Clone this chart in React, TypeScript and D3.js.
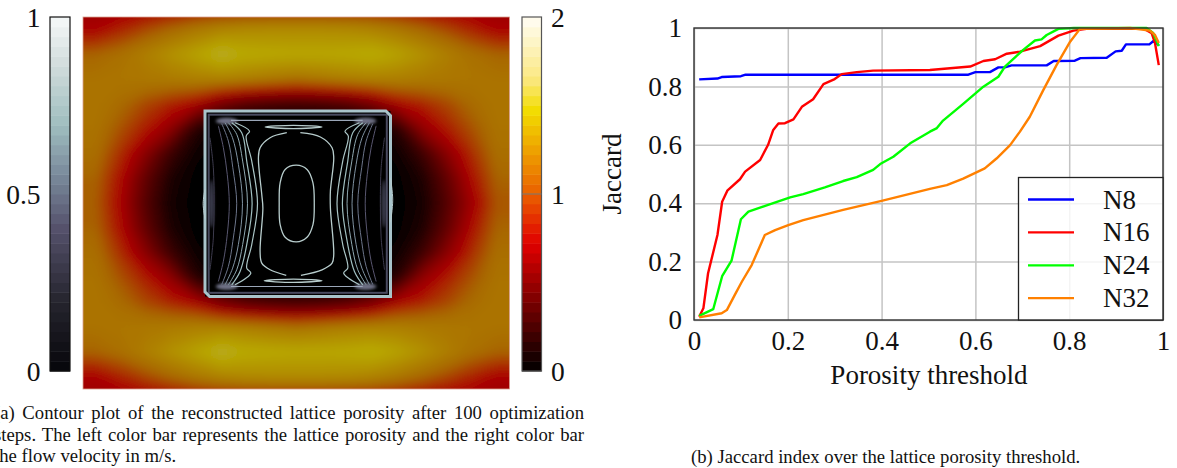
import React, { useEffect, useRef } from "react";
import * as d3 from "d3";

// Jaccard curves, [porosity threshold, jaccard]
const n8 = [[0.011,0.824],[0.05,0.827],[0.059,0.832],[0.1,0.835],[0.11,0.84],[0.585,0.84],[0.6,0.849],[0.631,0.849],[0.649,0.865],[0.663,0.865],[0.677,0.872],[0.752,0.872],[0.767,0.887],[0.812,0.888],[0.824,0.897],[0.88,0.898],[0.899,0.92],[0.912,0.922],[0.921,0.944],[0.971,0.944],[0.981,0.957],[0.991,0.94]];
const n16 = [[0.011,0.011],[0.02,0.04],[0.03,0.16],[0.05,0.291],[0.06,0.405],[0.071,0.443],[0.098,0.482],[0.109,0.508],[0.141,0.548],[0.158,0.6],[0.169,0.651],[0.18,0.673],[0.194,0.674],[0.212,0.687],[0.23,0.73],[0.254,0.756],[0.276,0.808],[0.3,0.825],[0.315,0.842],[0.347,0.849],[0.382,0.854],[0.503,0.856],[0.589,0.868],[0.617,0.887],[0.642,0.893],[0.667,0.912],[0.695,0.919],[0.738,0.938],[0.777,0.974],[0.809,0.991],[0.837,0.997],[0.96,0.997],[0.976,0.982],[0.983,0.948],[0.991,0.873]];
const n24 = [[0.011,0.014],[0.041,0.037],[0.06,0.15],[0.08,0.203],[0.1,0.345],[0.116,0.371],[0.158,0.394],[0.205,0.42],[0.233,0.431],[0.279,0.454],[0.318,0.476],[0.347,0.489],[0.382,0.514],[0.397,0.534],[0.425,0.559],[0.461,0.605],[0.503,0.645],[0.517,0.656],[0.531,0.683],[0.574,0.74],[0.617,0.799],[0.649,0.833],[0.663,0.868],[0.702,0.925],[0.727,0.957],[0.741,0.961],[0.752,0.976],[0.777,0.997],[0.81,1],[0.965,1],[0.979,0.983],[0.991,0.938]];
const n32 = [[0.011,0.009],[0.059,0.023],[0.07,0.034],[0.087,0.086],[0.102,0.131],[0.123,0.188],[0.151,0.291],[0.173,0.308],[0.201,0.325],[0.233,0.342],[0.318,0.377],[0.4,0.408],[0.503,0.449],[0.539,0.462],[0.574,0.484],[0.62,0.519],[0.645,0.553],[0.674,0.599],[0.695,0.645],[0.716,0.696],[0.745,0.788],[0.773,0.873],[0.802,0.953],[0.823,0.997],[0.93,1],[0.972,0.991],[0.983,0.976],[0.991,0.949]];
const seriesNames = ["N8", "N16", "N24", "N32"];
const seriesColors = ["#0000ff", "#ff0000", "#00ff00", "#ff8000"];
const jaccardTicks = [0, 0.2, 0.4, 0.6, 0.8, 1];

// flow velocity on a coarse grid (17 x 15), outside row is what the top and bottom edge fade to
const velocityOutside = [0.64,0.64,0.65,0.66,0.67,0.68,0.69,0.7,0.7,0.7,0.69,0.68,0.67,0.66,0.65,0.64,0.64];
const velocityRow0 = [0.72,0.82,0.92,1.02,1.12,1.2,1.24,1.25,1.25,1.25,1.24,1.2,1.12,1.02,0.92,0.82,0.72];
const velocityRow1 = [1.0,1.06,1.17,1.3,1.42,1.57,1.48,1.46,1.45,1.45,1.46,1.5,1.42,1.3,1.17,1.06,1.0];
const velocityRow2 = [1.08,1.1,1.12,1.14,1.17,1.18,1.16,1.12,1.08,1.12,1.16,1.18,1.17,1.14,1.12,1.1,1.08];
const velocityRow3 = [1.1,1.03,0.92,0.82,0.72,0.5,0.36,0.3,0.28,0.3,0.36,0.5,0.72,0.82,0.92,1.03,1.1];
const velocityRow4 = [1.08,0.95,0.8,0.6,0.18,0,0,0,0,0,0,0,0.18,0.6,0.8,0.95,1.08];
const velocityRow5 = [1.05,0.85,0.58,0.26,0.06,0,0,0,0,0,0,0,0.06,0.26,0.58,0.85,1.05];
const velocityRow6 = [1.0,0.76,0.42,0.13,0.02,0,0,0,0,0,0,0,0.02,0.13,0.42,0.76,1.0];
const velocityRow7 = [0.98,0.72,0.36,0.09,0.01,0,0,0,0,0,0,0,0.01,0.09,0.36,0.68,0.96];
const velocityRows = [velocityRow0, velocityRow1, velocityRow2, velocityRow3, velocityRow4, velocityRow5, velocityRow6, velocityRow7, velocityRow6, velocityRow5, velocityRow4, velocityRow3, velocityRow2, velocityRow1, velocityRow0];

// porosity contours inside the lattice, in percent of the box
const innerOval = [[49.2,29.2],[55,31.5],[58.2,38.7],[58.9,49.9],[58.2,61.3],[55,68.1],[49.2,70.6],[43.2,68.1],[40.5,61.3],[40,49.9],[40.5,38.7],[43.2,31.5]];
const midLoopLeft = [[44.1,11.7],[35.1,14.4],[29.7,19.8],[28.8,25.2],[30.6,45],[31.2,52.3],[29.7,75.7],[30.6,82],[35.1,85.6],[43.8,88.6]];
const midLoopRight = [[51.4,11.7],[62.2,14],[68.5,19.8],[69.4,25.2],[67.6,43.2],[67.6,52.3],[69.4,77.5],[68.5,82],[63.1,85.6],[51.7,88.6]];
const slimTop = [[32.4,8.6],[47.7,7.7],[63.1,8.6],[47.7,9.5]];
const slimBottom = [[31.9,91.5],[47.7,90.6],[63.1,91.5],[47.7,92.4]];
const sideCurves = [
  [[16.2,6.3],[24,10.8],[22.2,13.5],[25.2,27],[28.3,50],[25.2,72],[22.5,84.7],[24.7,87.4],[16.2,93.7]],
  [[14.4,6.3],[19.8,11.7],[22.5,27],[25.4,50],[22.5,72],[18.9,86.5],[14.4,93.7]],
  [[12.6,6.3],[17.1,12.6],[20.3,27],[22.9,50],[20.3,72],[17.1,85.6],[12.6,93.7]],
  [[10.8,6.3],[14.8,14.4],[18,28.8],[20.2,50],[18,72],[14.9,84.7],[10.8,93.7]],
  [[9,6.8],[12.6,16.2],[15,30.6],[17.1,50],[15,70.3],[12.6,83.8],[9,93.6]],
  [[7.2,8],[9.9,19.8],[12,34.2],[13.1,50],[12,66.6],[9.9,81],[7.2,91.9]],
  [[2.7,14.4],[4.5,30.6],[4.9,50],[4.5,68.5],[2.7,85.6]],
];
const sideLevels = [0.74, 0.7, 0.64, 0.58, 0.5, 0.42, 0.3];
const cornerBlobs = [[11.7,5.4],[86.5,5.4],[11.7,94.6],[86.5,94.6]];
const porosityTicks = ["0", "0.5", "1"];
const velocityTicks = ["0", "1", "2"];

const captionA = [
  "(a) Contour plot of the reconstructed lattice porosity after 100 optimization",
  "steps. The left color bar represents the lattice porosity and the right color bar",
  "the flow velocity in m/s.",
];
const captionB = "(b) Jaccard index over the lattice porosity threshold.";

const font = "'Liberation Serif', serif";

const porosityColor = d3
  .scaleLinear<string>()
  .domain([0, 0.2, 0.4, 0.55, 0.7, 0.85, 1])
  .range(["#06060a", "#26252f", "#54506a", "#78889a", "#a0bfc0", "#cdd9d9", "#f6f9f9"]);
const velocityColor = d3
  .scaleLinear<string>()
  .domain([0, 0.72, 1.0, 1.47, 1.65, 2])
  .range(["#000000", "#e00000", "#ea6000", "#f2dc00", "#fbe880", "#fffdf5"]);
// the surface is lit, so it is darker than its colour bar
const fieldColor = d3
  .scaleLinear<string>()
  .domain([0, 0.72, 1.0, 1.45, 1.6])
  .range(["#000000", "#ac0000", "#a86800", "#b8a800", "#b9a840"]);

// the grid gets an extra ring of cells so d3.contours' cut corners stay outside the plot
const PAD = 2;
const padRow = (r) => [...Array(PAD).fill(r[0]), ...r, ...Array(PAD).fill(r[r.length - 1])];
const paddedRows = [
  ...Array(PAD).fill(padRow(velocityOutside)),
  ...velocityRows.map(padRow),
  ...Array(PAD).fill(padRow(velocityOutside)),
];
const fieldX = d3.scaleLinear().domain([PAD, 17 + PAD]).range([83, 509.5]);
const fieldY = d3.scaleLinear().domain([PAD, 15 + PAD]).range([17, 389]);
const boxX = d3.scaleLinear().domain([0, 100]).range([205, 390.5]);
const boxXMirror = d3.scaleLinear().domain([0, 100]).range([389.5, 204]);
const boxY = d3.scaleLinear().domain([0, 100]).range([111, 296.5]);
const barY = d3.scaleLinear().domain([0, 1]).range([371, 17]);
const jx = d3.scaleLinear().domain([0, 1]).range([694, 1163]);
const jy = d3.scaleLinear().domain([0, 1]).range([320, 28]);

const contourGen = d3.contours().size([17 + 2 * PAD, 15 + 2 * PAD]).smooth(true).thresholds(d3.range(0.02, 1.7, 0.02));
const fieldBands = contourGen(paddedRows.flat());
const fieldPath = d3.geoPath(
  d3.geoTransform({
    point(x, y) {
      this.stream.point(fieldX(x), fieldY(y));
    },
  })
);

const open = (sx) => d3.line().x((d) => sx(d[0])).y((d) => boxY(d[1])).curve(d3.curveCatmullRom);
const closed = d3.line().x((d) => boxX(d[0])).y((d) => boxY(d[1])).curve(d3.curveCatmullRomClosed);
const jaccardLine = d3.line().x((d) => jx(d[0])).y((d) => jy(d[1]));

const barBands = d3.range(0, 1, 1 / 36);

export default function App() {
  const axesRef = useRef(null);
  const captionRef = useRef(null);

  useEffect(() => {
    const g = d3.select(axesRef.current);
    g.selectAll("*").remove();
    const fmt = (d) => d3.format("~g")(d);
    const xAxis = g
      .append("g")
      .attr("transform", `translate(0,320)`)
      .call(d3.axisBottom(jx).tickValues(jaccardTicks).tickFormat(fmt).tickSize(-292).tickPadding(11));
    const yAxis = g
      .append("g")
      .attr("transform", `translate(694,0)`)
      .call(d3.axisLeft(jy).tickValues(jaccardTicks).tickFormat(fmt).tickSize(-469).tickPadding(12));
    [xAxis, yAxis].forEach((a) => {
      a.select(".domain").remove();
      a.attr("font-family", font).attr("font-size", 27);
      a.selectAll("line").attr("stroke", "#c4c4c4").attr("stroke-width", 1.5);
      a.selectAll("text").attr("fill", "#111");
    });

    // justify the first two caption lines
    d3.select(captionRef.current)
      .selectAll("text.just")
      .each(function () {
        const el = this as SVGTextElement;
        const spaces = (el.textContent.match(/ /g) || []).length;
        const extra = (590 - el.getComputedTextLength()) / spaces;
        el.setAttribute("word-spacing", String(extra));
      });
  }, []);

  return (
    <svg width={1177} height={468} style={{ position: "fixed", left: 0, top: 0, background: "#fff" }} fontFamily={font}>
      <defs>
        <clipPath id="plotClip">
          <rect x={83} y={17} width={426.5} height={372} />
        </clipPath>
        <filter id="soft" x="-5%" y="-5%" width="110%" height="110%">
          <feGaussianBlur stdDeviation={5} />
        </filter>
        <filter id="softer" x="-50%" y="-50%" width="200%" height="200%">
          <feGaussianBlur stdDeviation={1.6} />
        </filter>
        <filter id="line" x="-10%" y="-10%" width="120%" height="120%">
          <feGaussianBlur stdDeviation={0.3} />
        </filter>
      </defs>

      {/* velocity surface */}
      <g clipPath="url(#plotClip)">
        <g filter="url(#soft)">
          <rect x={0} y={-40} width={600} height={480} fill="#000" />
          {fieldBands.map((c) => (
            <path key={c.value} d={fieldPath(c)} fill={fieldColor(c.value)} />
          ))}
        </g>
      </g>
      <rect x={83} y={17} width={426.5} height={372} fill="none" stroke="#d9a090" strokeWidth={0.8} />

      {/* lattice box */}
      <g>
        <rect x={boxX(0)} y={boxY(0)} width={boxX(100) - boxX(0)} height={boxY(100) - boxY(0)} fill="#000" />
        {cornerBlobs.map((d, i) => (
          <ellipse key={i} cx={boxX(d[0])} cy={boxY(d[1])} rx={11} ry={3.2} fill="#8d90aa" opacity={0.8} filter="url(#softer)" />
        ))}
        <ellipse cx={boxX(3.5)} cy={boxY(50)} rx={2.5} ry={24} fill="#55566e" opacity={0.7} filter="url(#softer)" />
        <ellipse cx={boxX(96.5)} cy={boxY(50)} rx={2.5} ry={24} fill="#55566e" opacity={0.7} filter="url(#softer)" />
        <g fill="none" filter="url(#line)">
          {sideCurves.map((c, i) => (
            <g key={i} stroke={porosityColor(sideLevels[i])} strokeWidth={i < 2 ? 1.2 : 1}>
              <path d={open(boxX)(c)} />
              <path d={open(boxXMirror)(c)} />
            </g>
          ))}
          <g stroke={porosityColor(0.78)} strokeWidth={1.3}>
            <path d={closed(innerOval)} />
            <path d={open(boxX)(midLoopLeft)} />
            <path d={open(boxX)(midLoopRight)} />
            <path d={closed(slimTop)} />
            <path d={closed(slimBottom)} />
          </g>
        </g>
        {/* inner bands along top and bottom */}
        <rect x={boxX(2)} y={boxY(2)} width={boxX(98) - boxX(2)} height={boxY(98) - boxY(2)} fill="none" stroke="#4a4b60" strokeWidth={2} filter="url(#line)" />
        <line x1={boxX(14)} x2={boxX(85)} y1={boxY(5)} y2={boxY(5)} stroke="#9aa6b8" strokeWidth={1.2} />
        <line x1={boxX(14)} x2={boxX(85)} y1={boxY(94.6)} y2={boxY(94.6)} stroke="#9aa6b8" strokeWidth={1.2} />
        <polygon
          points={`${boxX(0)},${boxY(0)} ${boxX(97.5)},${boxY(0)} ${boxX(100)},${boxY(2.5)} ${boxX(100)},${boxY(100)} ${boxX(2.5)},${boxY(100)} ${boxX(0)},${boxY(97.5)}`}
          fill="none"
          stroke="#a9c4cb"
          strokeWidth={3}
          filter="url(#line)"
        />
        <path
          d={d3.line().x((d) => boxX(d[0])).y((d) => boxY(d[1])).curve(d3.curveCatmullRom)([[0,42],[-1,50],[0,58]])}
          fill="none"
          stroke="#b8cdd0"
          strokeWidth={1}
        />
        <path
          d={d3.line().x((d) => boxX(d[0])).y((d) => boxY(d[1])).curve(d3.curveCatmullRom)([[100,36],[101.2,48],[100,60]])}
          fill="none"
          stroke="#b8cdd0"
          strokeWidth={1}
        />
      </g>

      {/* porosity colour bar */}
      <g>
        {barBands.map((v) => (
          <rect key={v} x={50} y={barY(v + 1 / 36)} width={20} height={barY(v) - barY(v + 1 / 36) + 0.5} fill={porosityColor(v + 1 / 72)} />
        ))}
        <rect x={50} y={17} width={20} height={354} fill="none" stroke="#111" strokeWidth={1.2} />
        {porosityTicks.map((t) => (
          <text key={t} x={40.5} y={barY(+t) + 10} textAnchor="end" fontSize={27.5} fill="#111">
            {t}
          </text>
        ))}
      </g>

      {/* velocity colour bar */}
      <g>
        {barBands.map((v) => (
          <rect key={v} x={522} y={barY(v + 1 / 36)} width={19.5} height={barY(v) - barY(v + 1 / 36) + 0.5} fill={velocityColor((v + 1 / 72) * 2)} />
        ))}
        <rect x={522} y={17} width={19.5} height={354} fill="none" stroke="#555" strokeWidth={1.2} />
        <line x1={522} x2={541.5} y1={barY(0.5)} y2={barY(0.5)} stroke="#777" strokeWidth={1} />
        {velocityTicks.map((t) => (
          <text key={t} x={551} y={barY(+t / 2) + 10} fontSize={27.5} fill="#111">
            {t}
          </text>
        ))}
      </g>

      {/* Jaccard plot */}
      <g ref={axesRef} />
      {[n8, n16, n24, n32].map((s, i) => (
        <path key={seriesNames[i]} d={jaccardLine(s)} fill="none" stroke={seriesColors[i]} strokeWidth={2.4} strokeLinejoin="round" />
      ))}
      <rect x={694} y={28} width={469} height={292} fill="none" stroke="#333" strokeWidth={1.4} />
      <rect x={1018.5} y={177.5} width={144.5} height={142.5} fill="#fff" fillOpacity={0.82} stroke="#222" strokeWidth={1.3} />
      {seriesNames.map((name, i) => {
        const y = 199.5 + i * 32.9;
        return (
          <g key={name}>
            <line x1={1028} x2={1074} y1={y} y2={y} stroke={seriesColors[i]} strokeWidth={2.3} />
            <text x={1103} y={y + 9} fontSize={27} fill="#111">
              {name}
            </text>
          </g>
        );
      })}
      <text x={929} y={384} textAnchor="middle" fontSize={27} fill="#111">
        Porosity threshold
      </text>
      <text transform="translate(621,174) rotate(-90)" textAnchor="middle" fontSize={27} fill="#111">
        Jaccard
      </text>

      {/* captions */}
      <g ref={captionRef} fontSize={18.7} fill="#111">
        {captionA.map((line, i) => (
          <text key={i} className={i < 2 ? "just" : ""} x={-6} y={419 + i * 21.5}>
            {line}
          </text>
        ))}
        <text x={691} y={463}>
          {captionB}
        </text>
      </g>
    </svg>
  );
}
